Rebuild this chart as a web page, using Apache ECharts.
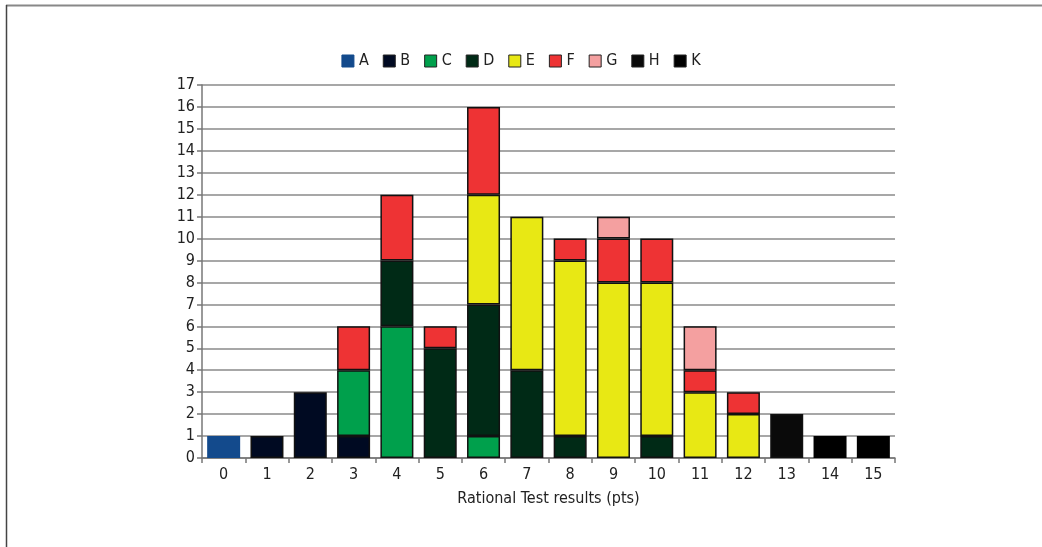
<!DOCTYPE html>
<html>
<head>
<meta charset="utf-8">
<style>
  html, body { margin: 0; padding: 0; background: #fff; }
  #chart { width: 1042px; height: 547px; }
</style>
<script src="https://cdn.jsdelivr.net/npm/echarts@6/dist/echarts.min.js"></script>
</head>
<body>
<div id="chart"></div>
<script>
// Score categories (points on the rational test)
const categories = ['0','1','2','3','4','5','6','7','8','9','10','11','12','13','14','15'];
const yTicks = [0,1,2,3,4,5,6,7,8,9,10,11,12,13,14,15,16,17];

// Counts per group, stacked bottom-to-top in this order
const seriesA = [1,0,0,0,0,0,0,0,0,0,0,0,0,0,0,0];
const seriesB = [0,1,3,1,0,0,0,0,0,0,0,0,0,0,0,0];
const seriesC = [0,0,0,3,6,0,1,0,0,0,0,0,0,0,0,0];
const seriesD = [0,0,0,0,3,5,6,4,1,0,1,0,0,0,0,0];
const seriesE = [0,0,0,0,0,0,5,7,8,8,7,3,2,0,0,0];
const seriesF = [0,0,0,2,3,1,4,0,1,2,2,1,1,0,0,0];
const seriesG = [0,0,0,0,0,0,0,0,0,1,0,2,0,0,0,0];
const seriesH = [0,0,0,0,0,0,0,0,0,0,0,0,0,2,0,0];
const seriesK = [0,0,0,0,0,0,0,0,0,0,0,0,0,0,1,1];

const groups = [
  { name: 'A', data: seriesA, color: '#134a8c', border: '#134a8c', bw: 0 },
  { name: 'B', data: seriesB, color: '#000a22', border: '#111', bw: 1.5 },
  { name: 'C', data: seriesC, color: '#00a04c', border: '#111', bw: 1.5 },
  { name: 'D', data: seriesD, color: '#002a16', border: '#111', bw: 1.5 },
  { name: 'E', data: seriesE, color: '#e8e814', border: '#111', bw: 1.5 },
  { name: 'F', data: seriesF, color: '#ee3334', border: '#111', bw: 1.5 },
  { name: 'G', data: seriesG, color: '#f4a0a0', border: '#111', bw: 1.5 },
  { name: 'H', data: seriesH, color: '#0a0a0a', border: '#111', bw: 1.5 },
  { name: 'K', data: seriesK, color: '#000000', border: '#000', bw: 1.5 }
];

const FONT = "'Liberation Sans Narrow', 'DejaVu Sans Condensed', 'Roboto', sans-serif";

const chart = echarts.init(document.getElementById('chart'), null, { renderer: 'canvas' });

chart.setOption({
  animation: false,
  backgroundColor: '#fff',
  textStyle: { fontFamily: FONT },
  graphic: [
    { type: 'line', shape: { x1: 6, y1: 5.5, x2: 1042, y2: 5.5 }, style: { stroke: '#888', lineWidth: 2 } },
    { type: 'line', shape: { x1: 6.5, y1: 5, x2: 6.5, y2: 547 }, style: { stroke: '#444', lineWidth: 1.5 } }
  ],
  legend: {
    top: 48,
    left: 'center',
    itemWidth: 12,
    itemHeight: 12,
    itemGap: 14,
    icon: 'rect',
    textStyle: { fontFamily: FONT, fontSize: 16, color: '#222' },
    data: groups.map(g => ({
      name: g.name,
      itemStyle: { color: g.color, borderColor: g.name === 'A' ? g.color : '#222', borderWidth: 1 }
    }))
  },
  grid: { left: 202, right: 147, top: 85, bottom: 89, containLabel: false },
  xAxis: {
    type: 'category',
    data: categories,
    name: 'Rational Test results (pts)',
    nameLocation: 'middle',
    nameGap: 33,
    nameTextStyle: { fontFamily: FONT, fontSize: 16, color: '#222' },
    axisLine: { lineStyle: { color: '#777', width: 1.5 } },
    axisTick: { show: true, alignWithLabel: false, length: 5, lineStyle: { color: '#777', width: 1.5 } },
    axisLabel: { fontFamily: FONT, fontSize: 16, color: '#222', margin: 9 }
  },
  yAxis: {
    type: 'value',
    min: yTicks[0],
    max: yTicks[yTicks.length - 1],
    interval: 1,
    axisLine: { show: true, lineStyle: { color: '#777', width: 1.5 } },
    axisTick: { show: true, length: 5, lineStyle: { color: '#777', width: 1.5 } },
    axisLabel: { fontFamily: FONT, fontSize: 16, color: '#222', margin: 7 },
    splitLine: { show: true, lineStyle: { color: '#8a8a8a', width: 1.5 } }
  },
  series: groups.map(g => ({
    name: g.name,
    type: 'bar',
    stack: 'total',
    barWidth: 33,
    data: g.data.map(v => (v === 0 ? '-' : v)),
    itemStyle: { color: g.color, borderColor: g.border, borderWidth: g.bw }
  }))
});
</script>
</body>
</html>
